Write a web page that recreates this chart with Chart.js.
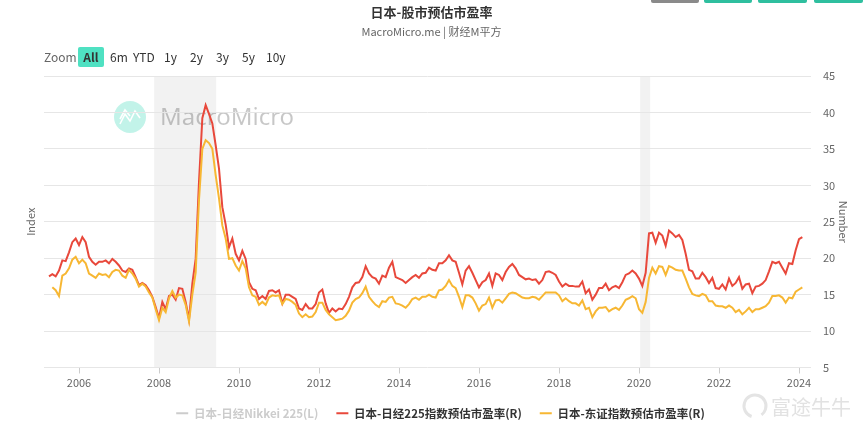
<!DOCTYPE html>
<html>
<head>
<meta charset="utf-8">
<title>日本-股市预估市盈率</title>
<script src="https://cdn.jsdelivr.net/npm/chart.js@4.4.1/dist/chart.umd.min.js"></script>
<style>
  body { margin: 0; background: #fff; font-family: "Noto Sans CJK SC", "Noto Sans", sans-serif; }
  #wrap { position: relative; width: 863px; height: 442px; overflow: hidden; }
  #chart { position: absolute; left: 0; top: 0; }
  .title { position: absolute; left: 0; top: 2px; width: 863px; text-align: center; font-size: 13px; font-weight: bold; color: #333; }
  .sub { position: absolute; left: 0; top: 23px; width: 863px; text-align: center; font-size: 11px; color: #666; }
  .zbtn { position: absolute; top: 48px; height: 18px; line-height: 18px; font-size: 12px; color: #333; }
  .zbtn.lbl { color: #666; }
  .zbtn.on { background: #4fe1c2; border-radius: 2px; font-weight: bold; text-align: center; width: 26px; top: 47px; height: 20px; line-height: 20px; }
  .tab { position: absolute; top: 0; height: 3px; border-radius: 0 0 2px 2px; background: #2fbf9f; }
</style>
</head>
<body>
<div id="wrap">
  <canvas id="chart" width="863" height="442"></canvas>
  <div class="tab" style="left:651px;width:48px;background:#8a8a8a"></div>
  <div class="tab" style="left:704px;width:48px"></div>
  <div class="tab" style="left:758px;width:49px"></div>
  <div class="tab" style="left:814px;width:49px"></div>
  <div class="title">日本-股市预估市盈率</div>
  <div class="sub">MacroMicro.me | 财经M平方</div>
  <span class="zbtn lbl" style="left:44px">Zoom</span>
  <span class="zbtn on" style="left:78px">All</span>
  <span class="zbtn" style="left:110px">6m</span>
  <span class="zbtn" style="left:133px">YTD</span>
  <span class="zbtn" style="left:164px">1y</span>
  <span class="zbtn" style="left:190px">2y</span>
  <span class="zbtn" style="left:216px">3y</span>
  <span class="zbtn" style="left:242px">5y</span>
  <span class="zbtn" style="left:266px">10y</span>
</div>
<script>
// monthly data, first point = April 2005
const startYear = 2005;
const startMonth = 4;

const seriesNames = ['日本-日经Nikkei 225(L)', '日本-日经225指数预估市盈率(R)', '日本-东证指数预估市盈率(R)'];

// Nikkei 225 index level is switched off in the legend, so no points are shown
const nikkeiIndex = [];

const nikkeiPE = [
  17.5, 17.8, 17.5, 18.3, 19.7, 19.6, 20.8, 22.2, 22.7,
  21.8, 22.9, 22.2, 20.2, 19.5, 19.1, 19.5, 19.5, 19.7, 19.3, 19.9, 19.5,
  19.0, 18.3, 18.1, 18.6, 18.4, 17.4, 16.3, 16.6, 16.3, 15.6, 14.7, 13.3,
  11.8, 14.0, 13.0, 14.8, 15.0, 14.3, 15.9, 15.8, 14.0, 11.6, 16.5, 19.9,
  30.5, 39.2, 41.0, 39.8, 38.5, 35.5, 32.3, 27.0, 24.6, 21.5, 22.7, 20.6,
  19.7, 21.0, 19.9, 16.7, 15.8, 15.6, 14.4, 14.8, 14.4, 15.5, 15.6, 15.3,
  15.6, 13.8, 15.0, 15.0, 14.7, 14.4, 13.1, 12.9, 13.7, 13.1, 13.1, 13.7,
  15.3, 15.7, 13.8, 12.5, 13.1, 12.7, 13.1, 13.0, 13.7, 14.7, 16.0, 16.6,
  16.7, 17.4, 18.9, 17.9, 17.4, 17.2, 16.5, 17.6, 17.4, 18.7, 19.5, 17.4,
  17.2, 17.0, 16.6, 17.0, 17.4, 17.7, 17.3, 17.9, 18.0, 18.7, 18.4, 18.3,
  19.3, 19.3, 19.7, 20.4, 19.7, 19.5, 18.0, 16.4, 18.3, 18.9, 18.0, 17.0,
  16.0, 16.7, 17.0, 17.9, 16.2, 17.9, 17.7, 17.0, 18.1, 18.8, 19.2, 18.6,
  17.7, 17.4, 17.1, 17.2, 17.0, 17.1, 16.5, 17.0, 18.1, 18.2, 18.0, 17.7,
  16.8, 16.1, 16.5, 16.2, 16.2, 16.1, 16.1, 16.8, 15.2, 15.7, 14.3, 15.0,
  15.9, 15.9, 16.5, 15.6, 16.0, 16.2, 15.9, 16.7, 17.7, 17.9, 18.3, 17.9,
  17.2, 16.2, 18.0, 23.4, 23.5, 22.1, 23.5, 23.1, 21.7, 23.8, 23.4, 22.9,
  23.2, 22.5, 20.6, 18.4, 18.2, 17.2, 17.2, 18.0, 17.4, 16.6, 17.3, 15.9,
  15.8, 16.4, 15.7, 17.2, 16.2, 16.6, 17.4, 15.8, 16.4, 16.5, 15.2, 16.1,
  16.2, 16.5, 17.0, 18.2, 19.5, 19.3, 19.5, 18.7, 17.9, 19.3, 19.2, 21.1,
  22.6, 22.9
];

const topixPE = [
  null, 16.0, 15.6, 14.8, 17.6, 17.9, 18.6, 19.8, 20.2,
  19.3, 19.8, 19.3, 17.9, 17.6, 17.3, 17.9, 17.7, 17.8, 17.4, 18.1, 18.4,
  18.3, 17.6, 17.3, 18.4, 17.9, 17.2, 16.1, 16.5, 16.1, 15.3, 14.6, 13.0,
  11.5, 13.2, 12.6, 14.5, 15.5, 14.6, 15.0, 14.9, 13.6, 11.3, 15.0, 18.0,
  28.0, 35.0, 36.2, 35.8, 35.0, 31.4, 28.2, 24.5, 22.7, 19.9, 20.0, 19.0,
  18.3, 19.6, 18.6, 16.0, 14.9, 14.7, 13.6, 14.0, 13.6, 14.6, 14.9, 14.8,
  14.9, 13.7, 14.4, 14.3, 14.0, 13.6, 12.4, 11.9, 12.3, 11.9, 12.0, 12.6,
  13.9, 13.9, 12.9, 12.3, 11.9, 11.5, 11.6, 11.7, 12.1, 12.8, 13.9, 14.4,
  14.6, 15.2, 16.1, 14.7, 14.1, 13.6, 13.3, 14.1, 14.0, 14.6, 14.7, 13.8,
  13.7, 13.5, 13.2, 13.7, 14.4, 14.6, 14.3, 14.7, 14.7, 15.0, 14.7, 14.6,
  15.6, 15.7, 16.2, 17.0, 16.2, 15.9, 14.7, 13.3, 14.9, 14.9, 14.6, 13.8,
  12.8, 13.5, 13.7, 14.6, 13.2, 14.2, 14.3, 13.9, 14.5, 15.1, 15.3, 15.2,
  14.9, 14.6, 14.5, 14.5, 14.7, 14.6, 14.3, 14.8, 15.3, 15.3, 15.3, 15.3,
  14.9, 14.1, 14.5, 14.1, 13.8, 13.8, 13.5, 14.2, 13.0, 13.2, 11.9, 12.7,
  13.2, 13.2, 13.3, 12.7, 13.0, 13.2, 12.9, 13.5, 14.3, 14.5, 14.8, 14.5,
  13.0, 12.5, 14.0, 17.3, 18.7, 17.9, 18.9, 18.8, 17.7, 18.9, 18.7, 18.4,
  18.3, 18.3, 17.2, 16.0, 15.1, 14.9, 14.8, 15.1, 14.9, 14.1, 14.1, 13.5,
  13.4, 13.4, 13.2, 13.5, 13.2, 12.6, 12.9, 12.3, 12.7, 13.2, 12.6, 13.0,
  13.0, 13.2, 13.4, 13.9, 14.8, 14.8, 14.9, 14.6, 13.9, 14.6, 14.5, 15.4,
  15.7, 16.0
];

const yearTicks = [2006, 2008, 2010, 2012, 2014, 2016, 2018, 2020, 2022, 2024];

// recession bands as decimal years
const recessions = [[2007.88, 2009.43], [2020.03, 2020.28]];

// turn a monthly list into {x: decimal year, y}
const toPoints = (values) =>
  values.map((v, i) => ({ x: startYear + (startMonth - 1 + i) / 12, y: v }));

const FONT = '"Noto Sans CJK SC", "Noto Sans", sans-serif';
Chart.defaults.font.family = FONT;

const backdrop = {
  id: 'backdrop',
  beforeDraw(chart) {
    const { ctx, chartArea, scales } = chart;
    ctx.save();
    ctx.fillStyle = '#f2f2f2';
    recessions.forEach(([a, b]) => {
      const x1 = scales.x.getPixelForValue(a);
      const x2 = scales.x.getPixelForValue(b);
      ctx.fillRect(x1, chartArea.top, x2 - x1, chartArea.bottom - chartArea.top);
    });

    // MacroMicro watermark
    ctx.fillStyle = 'rgba(80, 222, 192, 0.35)';
    ctx.beginPath();
    ctx.arc(130, 117, 16, 0, Math.PI * 2);
    ctx.fill();
    ctx.strokeStyle = '#ffffff';
    ctx.lineWidth = 1.6;
    ctx.beginPath();
    ctx.moveTo(120, 124); ctx.lineTo(125, 114); ctx.lineTo(130, 121); ctx.lineTo(135, 111); ctx.lineTo(140, 118);
    ctx.stroke();
    ctx.beginPath();
    ctx.moveTo(120, 119); ctx.lineTo(125, 110); ctx.lineTo(130, 116);
    ctx.stroke();
    ctx.fillStyle = 'rgba(0, 0, 0, 0.22)';
    ctx.font = '24px "Noto Sans", sans-serif';
    ctx.textBaseline = 'middle';
    ctx.fillText('MacroMicro', 160, 118);

    // Futu watermark
    ctx.strokeStyle = '#e4e4e4';
    ctx.lineWidth = 3;
    ctx.beginPath();
    ctx.arc(755, 406, 11, Math.PI * 0.6, Math.PI * 2.3);
    ctx.stroke();
    ctx.fillStyle = '#e2e2e2';
    ctx.font = '20px ' + FONT;
    ctx.fillText('富途牛牛', 771, 407);
    ctx.restore();
  }
};

new Chart(document.getElementById('chart'), {
  type: 'line',
  data: {
    datasets: [
      {
        label: seriesNames[0],
        data: toPoints(nikkeiIndex),
        yAxisID: 'yL',
        hidden: true,
        borderColor: '#cccccc',
        borderWidth: 2,
        order: 2
      },
      {
        label: seriesNames[1],
        data: toPoints(nikkeiPE),
        yAxisID: 'y',
        borderColor: '#e8483b',
        backgroundColor: '#e8483b',
        borderWidth: 2,
        pointRadius: 0,
        order: 1
      },
      {
        label: seriesNames[2],
        data: toPoints(topixPE),
        yAxisID: 'y',
        borderColor: '#f7b733',
        backgroundColor: '#f7b733',
        borderWidth: 2,
        pointRadius: 0,
        order: 0
      }
    ]
  },
  options: {
    responsive: false,
    animation: false,
    devicePixelRatio: 1,
    layout: { padding: { top: 76, left: 18, right: 0, bottom: 13 } },
    plugins: {
      tooltip: { enabled: false },
      legend: {
        position: 'bottom',
        labels: {
          usePointStyle: true,
          pointStyle: 'line',
          pointStyleWidth: 12,
          padding: 18,
          color: '#333333',
          font: { size: 11.5, weight: 'bold' },
          generateLabels(chart) {
            const items = Chart.defaults.plugins.legend.labels.generateLabels(chart);
            items.sort((a, b) => a.datasetIndex - b.datasetIndex);
            items.forEach((it) => {
              if (it.hidden) {
                // greyed out like the original, no strike-through
                it.hidden = false;
                it.fontColor = '#cccccc';
                it.strokeStyle = '#cccccc';
              }
            });
            return items;
          }
        }
      }
    },
    scales: {
      x: {
        type: 'linear',
        min: 2005.125,
        max: 2024.3,
        afterBuildTicks: (s) => { s.ticks = yearTicks.map((v) => ({ value: v })); },
        afterFit: (s) => { s.height = 22; },
        grid: { drawOnChartArea: false, drawTicks: true, tickLength: 6, color: '#cccccc' },
        border: { display: false },
        ticks: { color: '#666666', font: { size: 11 }, padding: 3, maxRotation: 0, autoSkip: false, callback: (v) => String(v) }
      },
      yL: {
        position: 'left',
        afterFit: (s) => { s.width = 26; },
        ticks: { display: false },
        grid: { display: false },
        border: { display: false },
        title: { display: true, text: 'Index', color: '#666666', font: { size: 11 }, padding: { top: 6, bottom: 0 } }
      },
      y: {
        position: 'right',
        min: 5,
        max: 45,
        afterFit: (s) => { s.width = 52; },
        ticks: { stepSize: 5, color: '#666666', font: { size: 11 }, padding: 12 },
        grid: { color: '#e6e6e6', drawTicks: false },
        border: { display: false },
        title: { display: true, text: 'Number', color: '#666666', font: { size: 11 }, padding: { top: 13, bottom: 0 } }
      }
    }
  },
  plugins: [backdrop]
});
</script>
</body>
</html>
